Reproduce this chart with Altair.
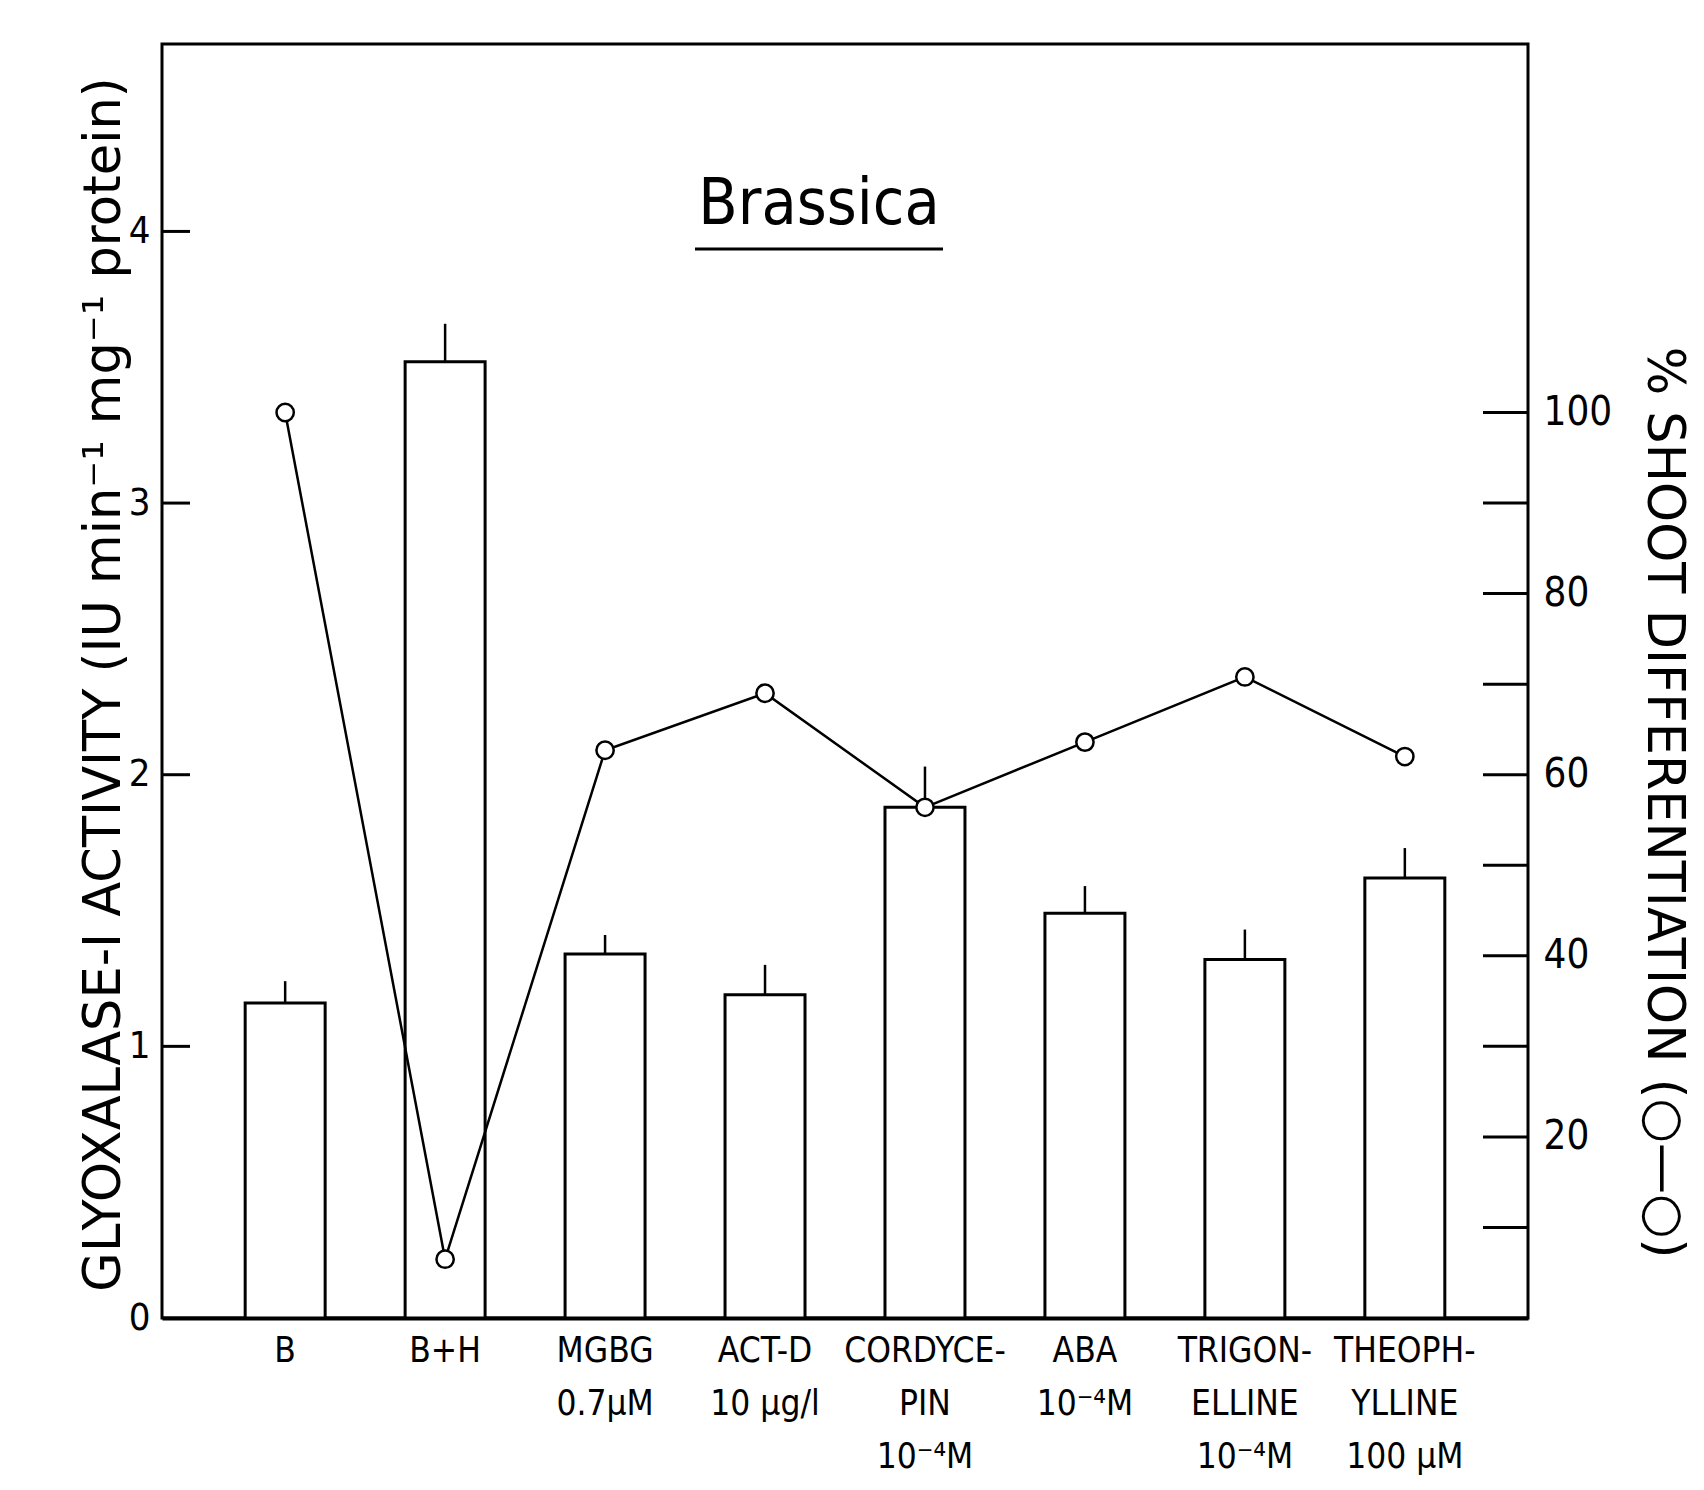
import altair as alt
import pandas as pd

# ---- data ----
categories = ["B", "B+H", "MGBG|0.7μM", "ACT-D|10 μg/l", "CORDYCE-|PIN|10⁻⁴M",
              "ABA|10⁻⁴M", "TRIGON-|ELLINE|10⁻⁴M", "THEOPH-|YLLINE|100 μM"]
activity = [1.16, 3.52, 1.34, 1.19, 1.88, 1.49, 1.32, 1.62]
activity_err_top = [1.24, 3.66, 1.41, 1.30, 2.03, 1.59, 1.43, 1.73]
shoot_pct = [100.0, 6.5, 62.7, 69.0, 56.4, 63.6, 70.8, 62.0]
left_tick_marks = [1, 2, 3, 4]
left_tick_labels = [0, 1, 2, 3, 4]
right_tick_marks = [10, 20, 30, 40, 50, 60, 70, 80, 90, 100]
right_tick_labels = [20, 40, 60, 80, 100]

W, H = 1366, 1274
FONT = "DejaVu Sans Condensed, DejaVu Sans"
LEFT_DOMAIN = [0, 4.69]
RIGHT_DOMAIN = [0, 140.7]

bars_df = pd.DataFrame({"cat": categories, "act": activity, "err": activity_err_top})
line_df = pd.DataFrame({"cat": categories, "pct": shoot_pct})
lt_df = pd.DataFrame({"v": left_tick_marks})
rt_df = pd.DataFrame({"v": right_tick_marks})


def lscale():
    return alt.Scale(domain=LEFT_DOMAIN, nice=False, zero=True)


def rscale():
    return alt.Scale(domain=RIGHT_DOMAIN, nice=False, zero=True)


x_enc = alt.X("cat:N", sort=categories,
              scale=alt.Scale(paddingInner=0.5, paddingOuter=0.52),
              axis=alt.Axis(title=None, labelExpr="split(datum.value, '|')",
                            labelAngle=0, labelFont=FONT, labelFontSize=35,
                            labelColor="black", labelLineHeight=53,
                            labelPadding=15, labelLimit=400, labelOverlap=False,
                            ticks=False, domain=True, domainColor="black",
                            domainWidth=4))
x_plain = alt.X("cat:N", sort=categories)

bars = alt.Chart(bars_df).mark_bar(fill="white", stroke="black", strokeWidth=3).encode(
    x=x_enc,
    y=alt.Y("act:Q", scale=lscale(),
            axis=alt.Axis(values=left_tick_labels, format="d", ticks=False, domain=False,
                          grid=False, labelFont=FONT, labelFontSize=38,
                          labelColor="black", labelPadding=12,
                          title="GLYOXALASE-I ACTIVITY (IU min⁻¹ mg⁻¹ protein)",
                          titleFont="DejaVu Sans", titleFontSize=51,
                          titleFontWeight="normal", titleColor="black",
                          titleAngle=270, titleX=-58, titleY=640,
                          titleBaseline="middle", titleAlign="center")),
)
errs = alt.Chart(bars_df).mark_rule(color="black", strokeWidth=2.5).encode(
    x=x_plain,
    y=alt.Y("act:Q", scale=lscale(), axis=None),
    y2="err:Q",
)
lticks = alt.Chart(lt_df).mark_rule(color="black", strokeWidth=3).encode(
    y=alt.Y("v:Q", scale=lscale(), axis=None),
    x=alt.value(0), x2=alt.value(28),
)

line = alt.Chart(line_df).mark_line(color="black", strokeWidth=2.5).encode(
    x=x_plain,
    y=alt.Y("pct:Q", scale=rscale(),
            axis=alt.Axis(orient="right", values=right_tick_labels, format="d",
                          ticks=False, domain=False, grid=False,
                          labelFont=FONT, labelFontSize=40, labelColor="black",
                          labelPadding=15,
                          title="% SHOOT  DIFFERENTIATION (○—○)",
                          titleFont="DejaVu Sans", titleFontSize=51,
                          titleFontWeight="normal", titleColor="black",
                          titleAngle=90, titleX=134, titleY=758,
                          titleBaseline="middle", titleAlign="center")),
)
pts = alt.Chart(line_df).mark_point(shape="circle", filled=True, fill="white",
                                    stroke="black", strokeWidth=2.5, size=300,
                                    opacity=1).encode(
    x=x_plain,
    y=alt.Y("pct:Q", scale=rscale(), axis=None),
)
rticks = alt.Chart(rt_df).mark_rule(color="black", strokeWidth=3).encode(
    y=alt.Y("v:Q", scale=rscale(), axis=None),
    x=alt.value(W - 45), x2=alt.value(W),
)

label_df = pd.DataFrame({"t": ["Brassica"]})
title_txt = alt.Chart(label_df).mark_text(font=FONT, fontSize=64, color="black",
                                          align="center", baseline="middle").encode(
    text="t:N", x=alt.value(657), y=alt.value(161))
underline = alt.Chart(label_df).mark_rule(color="black", strokeWidth=3).encode(
    x=alt.value(533), x2=alt.value(781), y=alt.value(205))

chart = alt.layer(bars, errs, lticks, line, pts, rticks, title_txt, underline).resolve_scale(
    y="independent"
).properties(
    width=W, height=H,
    autosize=alt.AutoSizeParams(type="none"),
    padding={"left": 154, "top": 36, "right": 166, "bottom": 158},
).configure_view(stroke="black", strokeWidth=3)

chart.save("out.html", embed_options={"renderer": "svg", "actions": False})
